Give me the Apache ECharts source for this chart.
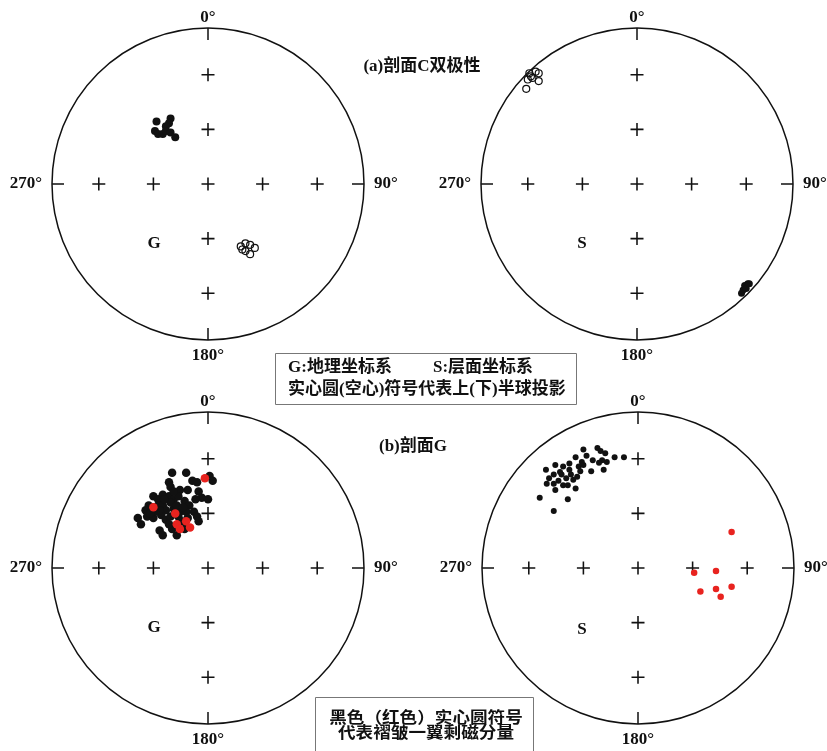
<!DOCTYPE html>
<html>
<head>
<meta charset="utf-8">
<script src="https://cdn.jsdelivr.net/npm/echarts@6/dist/echarts.min.js"></script>
<style>html,body{margin:0;padding:0;background:#fff}#c{width:827px;height:751px}</style>
</head>
<body>
<div id="c"></div>
<script>
// ---- data (projection coordinates: x = east, y = north, unit = primitive circle radius) ----
const azimuthTicks = [0, 90, 180, 270];
const crossRadii = [0.35, 0.70];

// (a) section C, geographic (G)
const aSolidG = [[-0.33,0.40],[-0.24,0.42],[-0.25,0.39],[-0.27,0.37],[-0.34,0.34],[-0.32,0.32],[-0.29,0.32],[-0.27,0.34],[-0.24,0.33],[-0.21,0.30]];
const aOpenG = [[0.21,-0.40],[0.24,-0.38],[0.27,-0.39],[0.30,-0.41],[0.24,-0.43],[0.27,-0.45],[0.22,-0.42]];
// (a) section C, stratigraphic (S)
const aOpenS = [[-0.69,0.71],[-0.65,0.72],[-0.63,0.71],[-0.70,0.67],[-0.67,0.68],[-0.63,0.66],[-0.71,0.61],[-0.68,0.69]];
const aSolidS = [[0.71,-0.64],[0.69,-0.65],[0.68,-0.68],[0.67,-0.70],[0.70,-0.67],[0.72,-0.64]];

// (b) section G, geographic (G)
const bBlackG = [[-0.23,0.61],[-0.14,0.61],[-0.10,0.56],[-0.07,0.55],[0.01,0.59],[0.03,0.56],[-0.25,0.55],[-0.24,0.52],[-0.18,0.50],[-0.13,0.50],
 [-0.06,0.49],[-0.04,0.45],[0.00,0.44],[-0.35,0.46],[-0.32,0.44],[-0.29,0.47],[-0.25,0.46],[-0.22,0.44],[-0.19,0.46],[-0.15,0.43],
 [-0.12,0.40],[-0.38,0.40],[-0.40,0.37],[-0.36,0.39],[-0.32,0.40],[-0.29,0.40],[-0.27,0.37],[-0.22,0.38],[-0.18,0.36],[-0.14,0.36],
 [-0.09,0.36],[-0.45,0.32],[-0.43,0.28],[-0.39,0.33],[-0.35,0.32],[-0.30,0.34],[-0.27,0.31],[-0.24,0.33],[-0.19,0.33],[-0.13,0.32],
 [-0.07,0.33],[-0.31,0.24],[-0.29,0.21],[-0.23,0.25],[-0.20,0.21],[-0.15,0.25],[-0.06,0.30],[-0.24,0.42],[-0.28,0.44],[-0.20,0.40],
 [-0.31,0.37],[-0.16,0.39],[-0.22,0.49],[-0.08,0.44],[-0.17,0.30],[-0.25,0.28],[-0.34,0.36],[-0.37,0.35]];
const bRedG = [[-0.02,0.575],[-0.35,0.39],[-0.21,0.35],[-0.20,0.28],[-0.18,0.25],[-0.14,0.30],[-0.115,0.26]];
// (b) section G, stratigraphic (S)
const bBlackS = [[-0.35,0.76],[-0.26,0.77],[-0.24,0.75],[-0.21,0.735],[-0.20,0.68],[-0.23,0.69],[-0.29,0.69],[-0.25,0.675],[-0.15,0.71],[-0.09,0.71],
 [-0.22,0.63],[-0.30,0.62],[-0.40,0.71],[-0.36,0.68],[-0.38,0.65],[-0.44,0.67],[-0.48,0.65],[-0.53,0.66],[-0.59,0.63],[-0.49,0.60],
 [-0.54,0.60],[-0.57,0.575],[-0.51,0.56],[-0.46,0.575],[-0.43,0.60],[-0.37,0.62],[-0.35,0.66],[-0.44,0.63],[-0.415,0.565],[-0.48,0.53],
 [-0.54,0.54],[-0.585,0.54],[-0.53,0.50],[-0.45,0.53],[-0.39,0.585],[-0.63,0.45],[-0.45,0.44],[-0.54,0.365],[-0.33,0.72],[-0.50,0.615],[-0.40,0.51]];
const bRedS = [[0.60,0.23],[0.36,-0.03],[0.50,-0.02],[0.40,-0.15],[0.50,-0.135],[0.53,-0.185],[0.60,-0.12]];

// ---- helpers ----
const toPolar = p => [Math.hypot(p[0], p[1]), (Math.atan2(p[0], p[1]) * 180 / Math.PI + 360) % 360];
const crossData = [[0, 0]];
crossRadii.forEach(r => azimuthTicks.forEach(a => crossData.push([r, a])));

const centers = [[208,184],[637,184],[208,568],[638,568]];
const R = 156;
const serif = "'Liberation Serif','Noto Sans CJK SC',serif";
const plus = 'path://M-0.12,-1 L0.12,-1 L0.12,-0.12 L1,-0.12 L1,0.12 L0.12,0.12 L0.12,1 L-0.12,1 L-0.12,0.12 L-1,0.12 L-1,-0.12 L-0.12,-0.12 Z';

const lab = {fontFamily: serif, fontWeight: 'bold', fontSize: 17, color: '#111'};
const polar = centers.map(c => ({center: c, radius: R}));
const angleAxis = centers.map((c, i) => ({
  polarIndex: i, type: 'value', min: 0, max: 360, interval: 90, startAngle: 90, clockwise: true,
  axisLine: {lineStyle: {color: '#111', width: 1.5}},
  axisTick: {show: true, inside: true, length: 12, lineStyle: {color: '#111', width: 1.5}},
  splitLine: {show: false},
  axisLabel: Object.assign({margin: 2,
    formatter: v => (v === 360 ? '' : '{a' + v + '|' + v + '°}'),
    rich: {
      a0: Object.assign({}, lab),
      a90: Object.assign({padding: [0, 0, 0, 8]}, lab),
      a180: Object.assign({padding: [5, 0, 0, 0]}, lab),
      a270: Object.assign({padding: [0, 8, 0, 0]}, lab)
    }}, lab)
}));
const radiusAxis = centers.map((c, i) => ({polarIndex: i, type: 'value', min: 0, max: 1, show: false,
  axisLine: {show: false}, axisTick: {show: false}, axisLabel: {show: false}, splitLine: {show: false}}));

const series = [];
centers.forEach((c, i) => series.push({type: 'scatter', coordinateSystem: 'polar', polarIndex: i,
  data: crossData, symbol: plus, symbolSize: 13, itemStyle: {color: '#111', opacity: 1}, z: 2, silent: true}));
function pts(idx, arr, opt) {
  series.push(Object.assign({type: 'scatter', coordinateSystem: 'polar', polarIndex: idx,
    data: arr.map(toPolar), z: 3, silent: true}, opt));
}
const solid = (size, col) => ({symbol: 'circle', symbolSize: size, itemStyle: {color: col || '#111', opacity: 1}});
const hollow = size => ({symbol: 'circle', symbolSize: size, itemStyle: {color: 'rgba(0,0,0,0)', borderColor: '#111', borderWidth: 1.2, opacity: 1}});
pts(0, aSolidG, solid(8));
pts(0, aOpenG, hollow(7));
pts(1, aOpenS, hollow(7));
pts(1, aSolidS, solid(7));
pts(2, bBlackG, solid(8.5));
pts(2, bRedG, solid(8.5, '#e8231f'));
pts(3, bBlackS, solid(6));
pts(3, bRedS, solid(6.5, '#e8231f'));

const txt = (text, x, y, size, align, sx) => ({type: 'text', z: 20, x: x, y: y, scaleX: sx || 1,
  style: {text: text, x: 0, y: 0, fontFamily: serif, fontWeight: 'bold', fontSize: size, fill: '#111',
    textAlign: align || 'center', textVerticalAlign: 'middle'}});

const graphic = [
  txt('G', 154, 244, 17), txt('S', 582, 244, 17), txt('G', 154, 628, 17), txt('S', 582, 630, 17),
  txt('(a)剖面C双极性', 422, 67, 17),
  txt('(b)剖面G', 413, 447, 17),
  {type: 'rect', z: 15, shape: {x: 275.5, y: 353.5, width: 301, height: 51}, style: {fill: '#fff', stroke: '#777', lineWidth: 1}},
  txt('G:地理坐标系', 288, 368, 17, 'left'),
  txt('S:层面坐标系', 433, 368, 17, 'left'),
  txt('实心圆(空心)符号代表上(下)半球投影', 288, 390, 17, 'left'),
  {type: 'rect', z: 15, shape: {x: 315.5, y: 697.5, width: 218, height: 70}, style: {fill: '#fff', stroke: '#777', lineWidth: 1}},
  txt('黑色（红色）实心圆符号', 426, 719, 16, 'center', 1.1),
  txt('代表褶皱一翼剩磁分量', 426, 734, 16, 'center', 1.1)
];

const chart = echarts.init(document.getElementById('c'));
chart.setOption({animation: false, backgroundColor: '#fff', polar, angleAxis, radiusAxis, series, graphic});
</script>
</body>
</html>
